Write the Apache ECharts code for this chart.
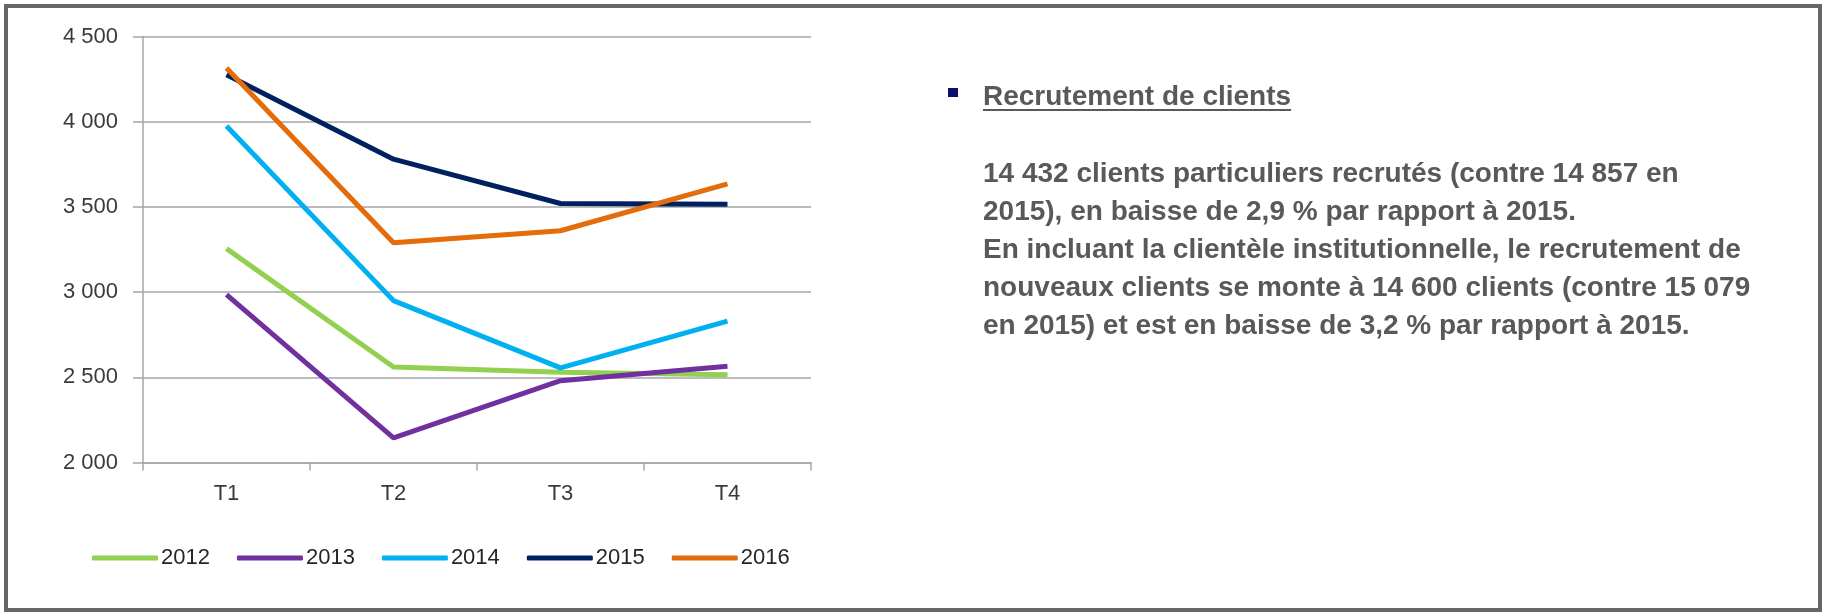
<!DOCTYPE html>
<html lang="fr">
  <head>
    <meta charset="UTF-8" />
    <title>Recrutement de clients</title>
    <script src="https://cdn.jsdelivr.net/npm/echarts@6/dist/echarts.min.js"></script>
    <style>
      body { margin: 0; background: #fff; }
      #wrap { position: relative; width: 1825px; height: 613px; overflow: hidden; }
      #main { position: absolute; left: 0; top: 0; width: 1825px; height: 613px; }
      #frame {
        position: absolute; left: 4px; top: 4px; width: 1818px; height: 608px;
        box-sizing: border-box; border: 4px solid #666; pointer-events: none;
      }
      #bullet { position: absolute; left: 948px; top: 88px; width: 10px; height: 9px; background: #0d0d6b; }
      .txt { position: absolute; left: 983px; font-family: "Liberation Sans", Arial, sans-serif; font-weight: bold; color: #595959; white-space: nowrap; }
      #title { top: 78px; font-size: 28px; line-height: 36px; text-decoration: underline; text-decoration-thickness: 2px; text-underline-offset: 4px; }
      #para { top: 154px; font-size: 28px; line-height: 38px; }
    </style>
  </head>
  <body>
    <div id="wrap">
      <div id="main"></div>
      <div id="frame"></div>
      <div id="bullet"></div>
      <div class="txt" id="title">Recrutement de clients</div>
      <div class="txt" id="para">
        14 432 clients particuliers recrutés (contre 14 857 en<br />
        2015), en baisse de 2,9 % par rapport à 2015.<br />
        En incluant la clientèle institutionnelle, le recrutement de<br />
        nouveaux clients se monte à 14 600 clients (contre 15 079<br />
        en 2015) et est en baisse de 3,2 % par rapport à 2015.
      </div>
    </div>
    <script type="text/javascript">
      // quarters and yearly series
      const quarters = ["T1", "T2", "T3", "T4"];
      const years = ["2012", "2013", "2014", "2015", "2016"];
      const v2012 = [3255, 2560, 2530, 2515];
      const v2013 = [2985, 2145, 2480, 2565];
      const v2014 = [3975, 2950, 2555, 2830];
      const v2015 = [4275, 3780, 3520, 3515];
      const v2016 = [4315, 3290, 3360, 3635];
      const colors = ["#92d050", "#7030a0", "#00b0f0", "#002060", "#e46c0a"];

      const values = [v2012, v2013, v2014, v2015, v2016];
      const fmt = (v) => String(v).replace(/\B(?=(\d{3})+(?!\d))/g, " ");
      const font = "'Liberation Sans', Arial, sans-serif";

      let myChart = echarts.init(document.getElementById("main"));
      let options = {
        animation: false,
        color: colors,
        grid: { left: 143, right: 1014, top: 36.5, bottom: 150.5, containLabel: false },
        legend: {
          data: years,
          left: 87,
          top: 542,
          icon: "roundRect",
          itemWidth: 66,
          itemHeight: 5,
          itemGap: 27,
          textStyle: { fontFamily: font, fontSize: 22, color: "#262626", padding: [0, 0, 0, -2] },
        },
        xAxis: {
          type: "category",
          data: quarters,
          boundaryGap: true,
          axisLine: { lineStyle: { color: "#a6a6a6", width: 1.5 } },
          axisTick: { show: true, length: 8, lineStyle: { color: "#a6a6a6", width: 1.5 } },
          axisLabel: { margin: 20, fontFamily: font, fontSize: 22, color: "#3a3a3a" },
        },
        yAxis: {
          type: "value",
          min: 2000,
          max: 4500,
          interval: 500,
          axisLine: { show: true, lineStyle: { color: "#a6a6a6", width: 1.5 } },
          axisTick: { show: true, length: 10, lineStyle: { color: "#a6a6a6", width: 1.5 } },
          axisLabel: { margin: 25, fontFamily: font, fontSize: 22, color: "#3a3a3a", formatter: fmt },
          splitLine: { lineStyle: { color: "#a6a6a6", width: 1.5 } },
        },
        series: years.map((y, i) => ({
          name: y,
          type: "line",
          data: values[i],
          symbol: "none",
          lineStyle: { width: 5, color: colors[i] },
        })),
      };
      myChart.setOption(options);
    </script>
  </body>
</html>
